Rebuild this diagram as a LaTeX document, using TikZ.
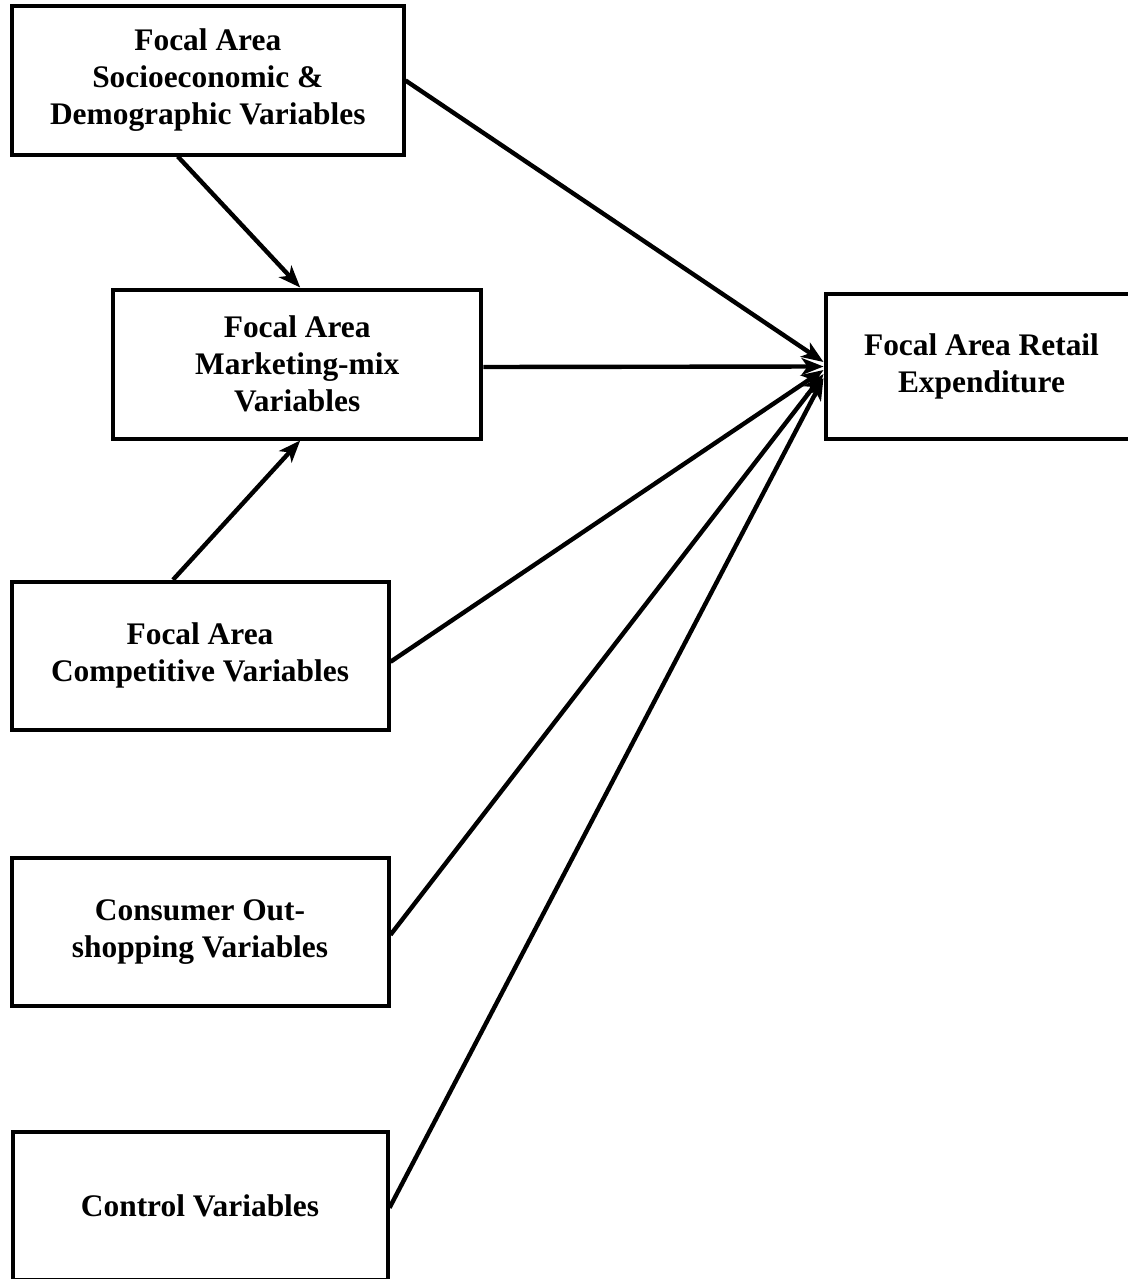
\documentclass[tikz,border=0pt]{standalone}
\usepackage{fontspec}
\setmainfont{Liberation Serif}
\usepackage{tikz}
\usetikzlibrary{arrows.meta}
\tikzstyle{varbox} =
[rectangle, minimum height = 74pt, align = center, draw=black,
line width = 2pt, font = \bfseries\fontsize{15.7}{18.5}\selectfont,
execute at begin node = \vspace*{4pt}]
\tikzstyle{line} = [draw, line width = 2.2pt,
-{Stealth[length=11pt, width=8.5pt, inset=3pt]}]

\begin{document}
\begin{tikzpicture}[node distance = 138pt, auto]
  \useasboundingbox (0,0) rectangle (564pt,-639.5pt);
  % left column nodes
  \node [varbox, minimum width = 195.75pt] (socio) at (103.9pt,-40.25pt)
   {Focal Area\\ Socioeconomic \&\\ Demographic Variables};
  \node [varbox, minimum width = 184.25pt, minimum height = 74.5pt] (mkt)
   at (148.6pt,-182pt) {Focal Area\\ Marketing-mix\\ Variables};
  \node [varbox, minimum width = 188.5pt] (comp) at (100pt,-327.9pt)
   {Focal Area\\ Competitive Variables};
  \node [varbox, minimum width = 188.5pt, below of=comp] (cons)
   {Consumer Out-\\ shopping Variables};
  \node [varbox, minimum width = 187.5pt, below of=cons, node distance=137pt]
   (ctrl) {Control Variables};
  % outcome node
  \node [varbox, minimum width = 156pt, minimum height = 72.75pt] (retail)
   at (490.75pt,-183.25pt) {Focal Area Retail\\ Expenditure};
  % edges between left nodes
  \path [line] ([xshift=-15pt]socio.south) -- ([xshift=1.5pt]mkt.north);
  \path [line] ([xshift=-13.5pt]comp.north) -- ([xshift=1.5pt]mkt.south);
  % edges to outcome
  \path [line] (socio.east) -- ([yshift=2.25pt]retail.west);
  \path [line] ([yshift=-1.5pt]mkt.east) -- (retail.west);
  \path [line] ([yshift=-3pt]comp.east) -- ([yshift=-1.75pt]retail.west);
  \path [line] ([yshift=-1.5pt]cons.east) -- ([yshift=-3.75pt]retail.west);
  \path [line] ([yshift=-1pt]ctrl.east) -- ([yshift=-5.75pt]retail.west);
\end{tikzpicture}
\end{document}
